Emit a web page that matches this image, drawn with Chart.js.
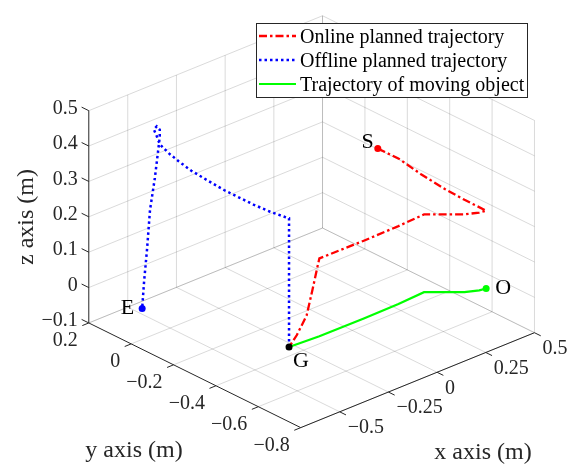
<!DOCTYPE html>
<html>
<head>
<meta charset="utf-8">
<script src="https://cdn.jsdelivr.net/npm/chart.js@4.4.1/dist/chart.umd.min.js"></script>
<style>
  html, body { margin: 0; padding: 0; background: #fff; }
  #wrap { width: 572px; height: 465px; position: relative; }
</style>
</head>
<body>
<div id="wrap"><canvas id="traj"></canvas></div>
<script>
// 3-D trajectory plot, projected onto a flat scatter chart

// axis limits and ticks
const xLim = [-0.7, 0.5];
const yLim = [-0.8, 0.2];
const zLim = [-0.1, 0.5];
const xTicks = [-0.5, -0.25, 0, 0.25, 0.5];
const yTicks = [0.2, 0, -0.2, -0.4, -0.6, -0.8];
const zTicks = [-0.1, 0, 0.1, 0.2, 0.3, 0.4, 0.5];
const xTickLabels = ['\u22120.5', '\u22120.25', '0', '0.25', '0.5'];
const yTickLabels = ['0.2', '0', '\u22120.2', '\u22120.4', '\u22120.6', '\u22120.8'];
const zTickLabels = ['\u22120.1', '0', '0.1', '0.2', '0.3', '0.4', '0.5'];

// online planned trajectory (S -> G)
const onlineX = [0.342, 0.368, 0.368, 0.377, 0.391, 0.414, 0.384, 0.332, 0.271, 0.218, 0.079, -0.102, -0.328, -0.331, -0.356, -0.387, -0.437, -0.475];
const onlineY = [-0.206, -0.279, -0.386, -0.490, -0.570, -0.651, -0.646, -0.624, -0.578, -0.538, -0.545, -0.548, -0.546, -0.540, -0.540, -0.540, -0.540, -0.538];
const onlineZ = [0.28, 0.268, 0.255, 0.242, 0.232, 0.22, 0.22, 0.22, 0.22, 0.22, 0.22, 0.22, 0.22, 0.196, 0.138, 0.070, 0.026, 0];

// offline planned trajectory (G -> E)
const offlineX = [-0.475, -0.475, -0.475, -0.475, -0.475, -0.475, -0.475, -0.475, -0.475, -0.475, -0.475, -0.475, -0.475, -0.475, -0.475, -0.475, -0.475, -0.475, -0.475, -0.475, -0.475, -0.475, -0.475];
const offlineY = [-0.538, -0.538, -0.519, -0.449, -0.370, -0.310, -0.231, -0.156, -0.077, -0.017, 0.030, 0.072, 0.086, 0.100, 0.086, 0.072, 0.072, 0.076, 0.095, 0.118, 0.132, 0.146, 0.155];
const offlineZ = [0, 0.364, 0.362, 0.356, 0.353, 0.353, 0.353, 0.357, 0.362, 0.371, 0.380, 0.393, 0.411, 0.426, 0.439, 0.434, 0.415, 0.391, 0.291, 0.193, 0.078, -0.018, -0.096];

// trajectory of the moving object (G ... O)
const objectX = [-0.475, -0.328, -0.102, 0.079, 0.218, 0.271, 0.332, 0.384, 0.414];
const objectY = [-0.538, -0.546, -0.548, -0.545, -0.538, -0.578, -0.624, -0.646, -0.651];
const objectZ = [0, 0, 0, 0, 0, 0, 0, 0, 0];

// marked points
const markNames = ['S', 'G', 'E', 'O'];
const markX = [0.342, -0.475, -0.475, 0.414];
const markY = [-0.206, -0.538, 0.155, -0.651];
const markZ = [0.28, 0, -0.096, 0];
const markColors = ['#ff0000', '#000000', '#0000ff', '#00ff00'];

const legendNames = ['Online planned trajectory', 'Offline planned trajectory', 'Trajectory of moving object'];

// view
const VIEW_AZ = -42.2;
const VIEW_EL = 26.7;
const BOX_ASPECT = [1, 1, 0.7555];

const AXIS_COLOR = '#262626';
const GRID_COLOR = 'rgba(38,38,38,0.17)';
const SERIF = "'Liberation Serif', 'Times New Roman', serif";
const RED_DASH = [8, 3, 2.5, 3];
const BLUE_DOT = [2.5, 3];

function project(x, y, z) {
  const az = VIEW_AZ * Math.PI / 180;
  const el = VIEW_EL * Math.PI / 180;
  const nx = ((x - xLim[0]) / (xLim[1] - xLim[0]) - 0.5) * BOX_ASPECT[0];
  const ny = ((y - yLim[0]) / (yLim[1] - yLim[0]) - 0.5) * BOX_ASPECT[1];
  const nz = ((z - zLim[0]) / (zLim[1] - zLim[0]) - 0.5) * BOX_ASPECT[2];
  return {
    x: nx * Math.cos(az) + ny * Math.sin(az),
    y: -nx * Math.sin(az) * Math.sin(el) + ny * Math.cos(az) * Math.sin(el) + nz * Math.cos(el)
  };
}

function path(xs, ys, zs) {
  return xs.map((x, i) => project(x, ys[i], zs[i]));
}

function lineSet(pts, color, width, dash, order) {
  return {
    data: pts, showLine: true, borderColor: color, borderWidth: width,
    borderDash: dash || [], pointRadius: 0, fill: false, tension: 0, order: order
  };
}

// grid lines on the floor and the two back walls
const datasets = [];
xTicks.forEach(x => {
  datasets.push(lineSet([project(x, yLim[0], zLim[0]), project(x, yLim[1], zLim[0])], GRID_COLOR, 1, null, 10));
  datasets.push(lineSet([project(x, yLim[1], zLim[0]), project(x, yLim[1], zLim[1])], GRID_COLOR, 1, null, 10));
});
yTicks.forEach(y => {
  datasets.push(lineSet([project(xLim[0], y, zLim[0]), project(xLim[1], y, zLim[0])], GRID_COLOR, 1, null, 10));
  datasets.push(lineSet([project(xLim[1], y, zLim[0]), project(xLim[1], y, zLim[1])], GRID_COLOR, 1, null, 10));
});
zTicks.forEach(z => {
  datasets.push(lineSet([project(xLim[0], yLim[1], z), project(xLim[1], yLim[1], z)], GRID_COLOR, 1, null, 10));
  datasets.push(lineSet([project(xLim[1], yLim[0], z), project(xLim[1], yLim[1], z)], GRID_COLOR, 1, null, 10));
});

// axis lines
datasets.push(lineSet([project(xLim[0], yLim[1], zLim[0]), project(xLim[0], yLim[0], zLim[0])], AXIS_COLOR, 1, null, 9));
datasets.push(lineSet([project(xLim[0], yLim[0], zLim[0]), project(xLim[1], yLim[0], zLim[0])], AXIS_COLOR, 1, null, 9));
datasets.push(lineSet([project(xLim[0], yLim[1], zLim[0]), project(xLim[0], yLim[1], zLim[1])], AXIS_COLOR, 1, null, 9));

// trajectories
datasets.push(lineSet(path(objectX, objectY, objectZ), '#00ff00', 2.2, null, 4));
datasets.push(lineSet(path(offlineX, offlineY, offlineZ), '#0000ff', 2.5, BLUE_DOT, 3));
datasets.push(lineSet(path(onlineX, onlineY, onlineZ), '#ff0000', 2.3, RED_DASH, 2));

datasets.push({
  data: path(markX, markY, markZ), showLine: false,
  pointRadius: 3.5, pointBackgroundColor: markColors, pointBorderColor: markColors,
  pointBorderWidth: 0, order: 1
});

function px(chart, p) {
  return { x: chart.scales.x.getPixelForValue(p.x), y: chart.scales.y.getPixelForValue(p.y) };
}

const decorations = {
  id: 'decorations',
  afterDatasetsDraw(chart) {
    const ctx = chart.ctx;
    ctx.save();
    ctx.strokeStyle = AXIS_COLOR;
    ctx.fillStyle = AXIS_COLOR;
    ctx.lineWidth = 1;
    ctx.font = '20px ' + SERIF;

    const tick = (a, b, len) => {
      const dx = b.x - a.x, dy = b.y - a.y, d = Math.hypot(dx, dy);
      ctx.beginPath();
      ctx.moveTo(a.x, a.y);
      ctx.lineTo(a.x + dx / d * len, a.y + dy / d * len);
      ctx.stroke();
    };

    // z ticks
    ctx.textAlign = 'right';
    ctx.textBaseline = 'middle';
    zTicks.forEach((z, i) => {
      const a = px(chart, project(xLim[0], yLim[1], z));
      const b = px(chart, project(xLim[0], yLim[1] + 1, z));
      tick(a, b, 8);
      ctx.fillText(zTickLabels[i], a.x - 11, a.y - 2);
    });
    // y ticks
    yTicks.forEach((y, i) => {
      const a = px(chart, project(xLim[0], y, zLim[0]));
      const b = px(chart, project(xLim[0] - 1, y, zLim[0]));
      tick(a, b, 7);
      ctx.fillText(yTickLabels[i], a.x - 11, a.y + 18);
    });
    // x ticks
    ctx.textAlign = 'left';
    xTicks.forEach((x, i) => {
      const a = px(chart, project(x, yLim[0], zLim[0]));
      const b = px(chart, project(x, yLim[0] - 1, zLim[0]));
      tick(a, b, 7);
      ctx.fillText(xTickLabels[i], a.x + 8, a.y + 16);
    });

    // axis titles
    ctx.font = '24px ' + SERIF;
    ctx.textAlign = 'center';
    ctx.fillText('x axis (m)', 483, 453);
    ctx.fillText('y axis (m)', 134, 451);
    ctx.save();
    ctx.translate(27, 217);
    ctx.rotate(-Math.PI / 2);
    ctx.fillText('z axis (m)', 0, 0);
    ctx.restore();

    // point names
    ctx.font = '22px ' + SERIF;
    ctx.fillStyle = '#000';
    const offs = [[-4, -6, 'right'], [12, 14, 'center'], [-8, 0, 'right'], [9, 0, 'left']];
    markNames.forEach((n, i) => {
      const p = px(chart, project(markX[i], markY[i], markZ[i]));
      ctx.textAlign = offs[i][2];
      ctx.fillText(n, p.x + offs[i][0], p.y + offs[i][1]);
    });

    // legend
    const lx = 256, ly = 23, lw = 271, lh = 74;
    ctx.fillStyle = '#fff';
    ctx.fillRect(lx, ly, lw, lh);
    ctx.strokeStyle = AXIS_COLOR;
    ctx.lineWidth = 1;
    ctx.strokeRect(lx + 0.5, ly + 0.5, lw, lh);
    const styles = [['#ff0000', 2.3, RED_DASH], ['#0000ff', 2.5, BLUE_DOT], ['#00ff00', 2.2, []]];
    ctx.font = '20px ' + SERIF;
    ctx.textAlign = 'left';
    ctx.textBaseline = 'middle';
    legendNames.forEach((name, i) => {
      const yy = ly + 13 + i * 24;
      ctx.strokeStyle = styles[i][0];
      ctx.lineWidth = styles[i][1];
      ctx.setLineDash(styles[i][2]);
      ctx.beginPath();
      ctx.moveTo(lx + 3, yy);
      ctx.lineTo(lx + 40, yy);
      ctx.stroke();
      ctx.setLineDash([]);
      ctx.fillStyle = '#000';
      ctx.fillText(name, lx + 44, yy + 2);
    });
    ctx.restore();
  }
};

new Chart(document.getElementById('traj'), {
  type: 'scatter',
  data: { datasets: datasets },
  options: {
    responsive: true,
    maintainAspectRatio: false,
    animation: false,
    layout: { padding: 0 },
    plugins: { legend: { display: false }, tooltip: { enabled: false } },
    scales: {
      x: { type: 'linear', display: false, min: -0.975, max: 0.8125 },
      y: { type: 'linear', display: false, min: -0.7609, max: 0.6922 }
    }
  },
  plugins: [decorations]
});
</script>
</body>
</html>
